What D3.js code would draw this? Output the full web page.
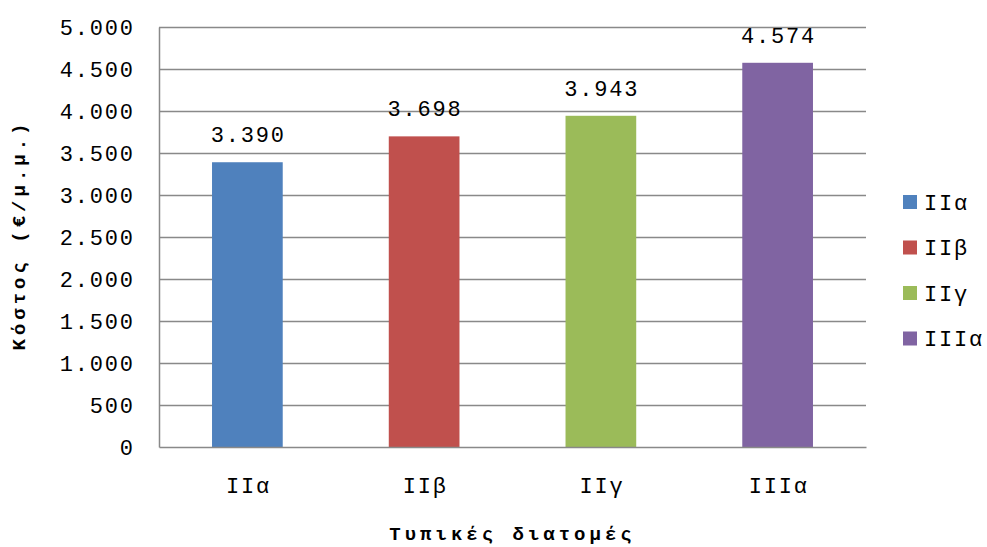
<!DOCTYPE html>
<html><head><meta charset="utf-8">
<script src="https://cdn.jsdelivr.net/npm/d3@7"></script>
<style>
html,body{margin:0;padding:0;background:#fff;}
text{font-family:"Courier New","Liberation Mono",monospace;fill:#000;}
</style></head>
<body><svg id="c" width="987" height="547"></svg>
<script>
const categories = ["IIα","IIβ","IIγ","IIIα"];
const values = [3390, 3698, 3943, 4574];
const colors = ["#4F81BD","#C0504D","#9BBB59","#8064A2"];
const yTicks = [0,500,1000,1500,2000,2500,3000,3500,4000,4500,5000];
const yTitle = "Κόστος (€/μ.μ.)";
const xTitle = "Τυπικές διατομές";

const svg = d3.select("#c");
const m = {l:159, t:27, r:121, b:100};
const W = 987 - m.l - m.r, H = 547 - m.t - m.b;
const g = svg.append("g").attr("transform",`translate(${m.l},${m.t})`);
const x = d3.scaleBand().domain(categories).range([0,W]).paddingInner(0.6).paddingOuter(0.3);
const y = d3.scaleLinear().domain([0,5000]).range([H,0]);
const fmt = v => d3.format(",")(v).replace(/,/g,".");
const FS = "22px", LS = "1.8px";

// gridlines
g.append("g").selectAll("line").data(yTicks.slice(1)).join("line")
  .attr("x1",0).attr("x2",W).attr("y1",d=>Math.round(y(d))+0.5).attr("y2",d=>Math.round(y(d))+0.5)
  .attr("stroke","#898989").attr("stroke-width",1.5);

// bars
g.selectAll("rect.bar").data(values).join("rect").attr("class","bar")
  .attr("x",(d,i)=>x(categories[i])).attr("width",x.bandwidth())
  .attr("y",d=>y(d)).attr("height",d=>H-y(d)).attr("fill",(d,i)=>colors[i]);

// y axis
const ya = g.append("g").call(d3.axisLeft(y).tickValues(yTicks).tickSize(0).tickPadding(26).tickFormat(fmt));
ya.select(".domain").attr("stroke","#898989").attr("stroke-width",1.5);
ya.selectAll("text").style("font-size",FS).style("letter-spacing",LS).attr("dx","1.8px");

// x axis
const xa = g.append("g").attr("transform",`translate(0,${H})`).call(d3.axisBottom(x).tickSize(0).tickPadding(30));
xa.select(".domain").attr("stroke","#898989").attr("stroke-width",1.5);
xa.selectAll("text").style("font-size",FS).style("letter-spacing",LS).attr("dx","1px");

// data labels
g.selectAll("text.lbl").data(values).join("text").attr("class","lbl")
  .attr("x",(d,i)=>x(categories[i])+x.bandwidth()/2+1).attr("y",d=>y(d)-20)
  .attr("text-anchor","middle").style("font-size",FS).style("letter-spacing",LS).text(fmt);

// axis titles
svg.append("text").attr("transform",`translate(25,${m.t+H/2-2}) rotate(-90)`)
  .attr("text-anchor","middle").style("font-size","19px").style("font-weight","bold").style("letter-spacing","4px").text(yTitle);
svg.append("text").attr("x",m.l+W/2).attr("y",540).attr("text-anchor","middle")
  .style("font-size","19px").style("font-weight","bold").style("letter-spacing","4px").text(xTitle);

// legend
const lg = svg.append("g").attr("transform","translate(903,195)");
const items = lg.selectAll("g").data(categories).join("g").attr("transform",(d,i)=>`translate(0,${i*45.5})`);
items.append("rect").attr("width",14).attr("height",14).attr("fill",(d,i)=>colors[i]);
items.append("text").attr("x",21).attr("y",7).attr("dy","0.35em").style("font-size",FS).style("letter-spacing",LS).text(d=>d);
</script></body></html>
